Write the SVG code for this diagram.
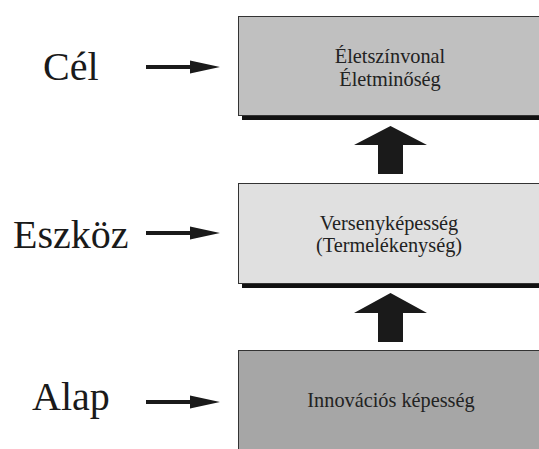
<svg xmlns="http://www.w3.org/2000/svg" width="539" height="449" viewBox="0 0 539 449">
<style>
.lbl{font-family:"Liberation Serif","Times New Roman",serif;font-size:40px;fill:#1a1a1a}
.t{font-family:"Liberation Serif","Times New Roman",serif;font-size:20.3px;fill:#222;text-anchor:middle}
.box{stroke:#333;stroke-width:1}
.sh{fill:#111}
.ar{fill:#1a1a1a}
</style>
<rect width="539" height="449" fill="#fff"/>
<g id="node-cel">
<rect class="sh" x="242" y="20" width="310" height="100"/>
<rect class="box" x="238.5" y="16.5" width="310" height="99" fill="#c0c0c0"/>
<text class="t" x="390" y="63">Életszínvonal</text>
<text class="t" x="390" y="86">Életminőség</text>
</g>
<g id="node-eszkoz">
<rect class="sh" x="242" y="187" width="310" height="101"/>
<rect class="box" x="238.5" y="183.5" width="310" height="100" fill="#e0e0e0"/>
<text class="t" x="389" y="230">Versenyképesség</text>
<text class="t" x="389" y="252">(Termelékenység)</text>
</g>
<g id="node-alap">
<rect class="box" x="238.5" y="350.5" width="310" height="110" fill="#a6a6a6"/>
<text class="t" x="391" y="407">Innovációs képesség</text>
</g>
<g id="label-cel"><text class="lbl" x="43" y="80">Cél</text></g>
<g id="label-eszkoz"><text class="lbl" x="13" y="248">Eszköz</text></g>
<g id="label-alap"><text class="lbl" x="32" y="410">Alap</text></g>
<g id="connectors">
<polygon class="ar" points="390.5,126 427,145 403,145 403,174 378,174 378,145 354,145"/>
<polygon class="ar" points="390.5,293 427,313 403,313 403,342 378,342 378,313 354,313"/>
<polygon class="ar" points="146,65 190,65 190,60.5 220,67 190,73.5 190,69 146,69"/>
<polygon class="ar" points="146,231 190,231 190,226.5 220,233 190,239.5 190,235 146,235"/>
<polygon class="ar" points="146,400 190,400 190,395.5 220,402 190,408.5 190,404 146,404"/>
</g>
</svg>
